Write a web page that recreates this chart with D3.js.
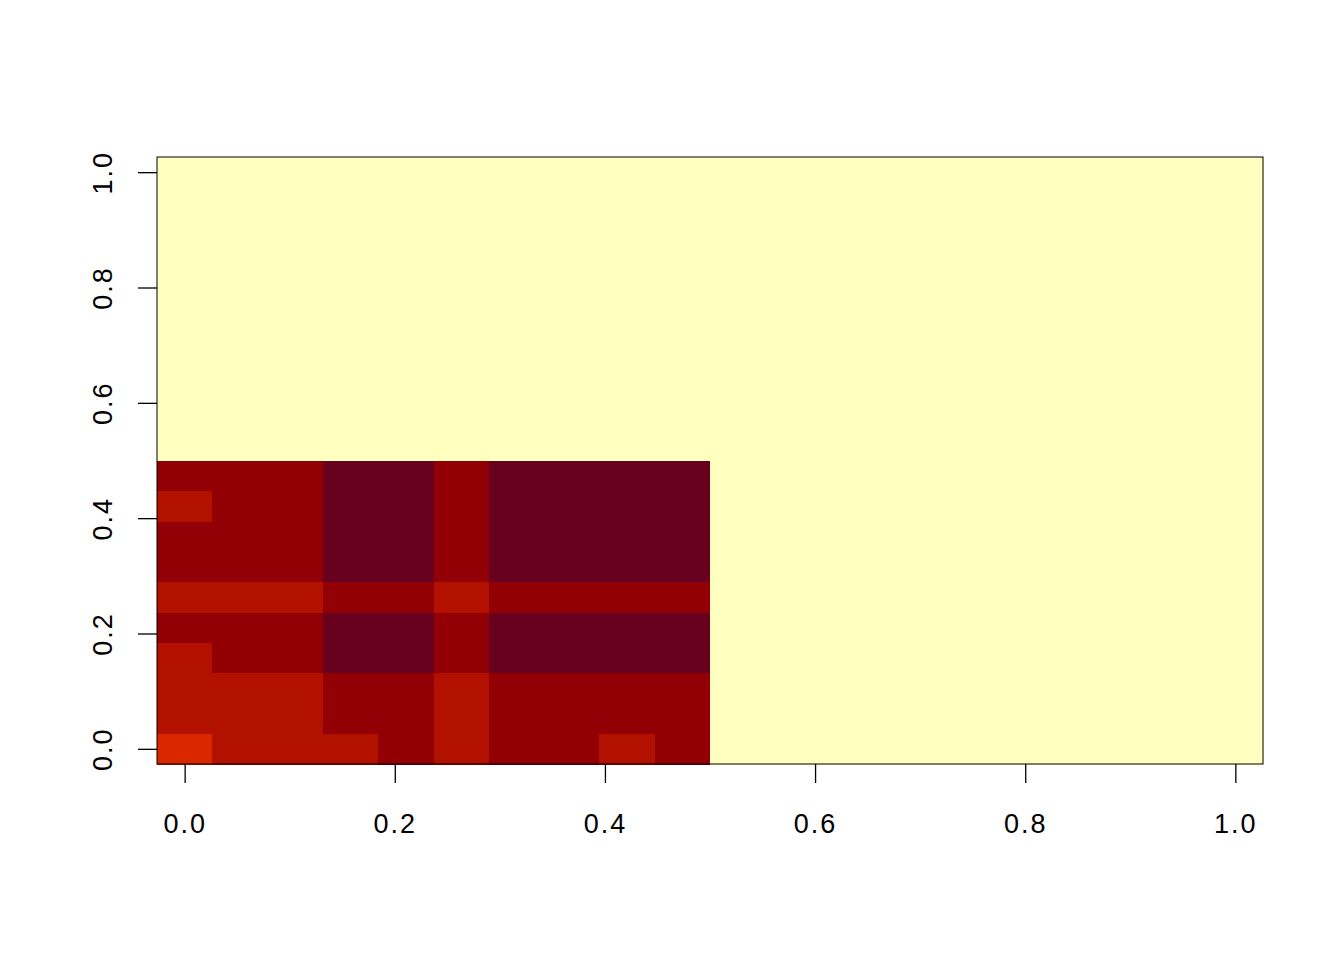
<!DOCTYPE html>
<html><head><meta charset="utf-8">
<script src="https://cdn.jsdelivr.net/npm/d3@7"></script>
<style>body{margin:0;background:#fff}svg{display:block}text{font-family:"Liberation Sans",Arial,sans-serif}</style>
</head><body>
<script>
// Grid: 20 x 20 cells, x and y at k/19
const nx = 20, ny = 20;
const xTicks = [0, 0.2, 0.4, 0.6, 0.8, 1.0];
const yTicks = [0, 0.2, 0.4, 0.6, 0.8, 1.0];
// Levels for the lower-left 10x10 block; rows listed bottom (y=0) to top, columns left to right
const blockRows = [
  [4,3,3,3,2,3,2,2,3,2],
  [3,3,3,2,2,3,2,2,2,2],
  [3,3,3,2,2,3,2,2,2,2],
  [3,2,2,1,1,2,1,1,1,1],
  [2,2,2,1,1,2,1,1,1,1],
  [3,3,3,2,2,3,2,2,2,2],
  [2,2,2,1,1,2,1,1,1,1],
  [2,2,2,1,1,2,1,1,1,1],
  [3,2,2,1,1,2,1,1,1,1],
  [2,2,2,1,1,2,1,1,1,1]
];
const fillLevel = 12; // value everywhere outside the block
const palette = ["#680020","#920006","#B31100","#D92800","#EB4A0A","#F56A1C","#FA8A30","#FCA94A","#FDC366","#FEDA86","#FEEDA6","#FFFFBF"];

const W = 1344, H = 960;
const svg = d3.select("body").append("svg").attr("width", W).attr("height", H);
const half = 1 / (2 * (nx - 1));
const x = d3.scaleLinear().domain([-half, 1 + half]).range([157, 1263]);
const y = d3.scaleLinear().domain([-1/(2*(ny-1)), 1 + 1/(2*(ny-1))]).range([764, 157]);
const color = d3.scaleQuantize().domain([1, 12]).range(palette);

const cells = [];
for (let i = 0; i < nx; i++) for (let j = 0; j < ny; j++) {
  const v = (i < 10 && j < 10) ? blockRows[j][i] : fillLevel;
  cells.push({xv: i/(nx-1), yv: j/(ny-1), v});
}
const dx = 1/(nx-1), dy = 1/(ny-1);
svg.append("g").selectAll("rect").data(cells).join("rect")
  .attr("x", d => x(d.xv - dx/2))
  .attr("y", d => y(d.yv + dy/2))
  .attr("width", d => x(d.xv + dx/2) - x(d.xv - dx/2) + 0.5)
  .attr("height", d => y(d.yv - dy/2) - y(d.yv + dy/2) + 0.5)
  .attr("fill", d => color(d.v))
  .attr("shape-rendering", "crispEdges");

svg.append("rect").attr("x", 157).attr("y", 157).attr("width", 1106).attr("height", 607)
  .attr("fill", "none").attr("stroke", "#000").attr("stroke-width", 1);

const fs = 27;
const xAxis = svg.append("g").attr("transform", "translate(0,764)")
  .call(d3.axisBottom(x).tickValues(xTicks).tickFormat(d3.format(".1f")).tickSize(19).tickPadding(31));
xAxis.select(".domain").remove();
xAxis.selectAll("line").attr("stroke-width", 1.3);
xAxis.selectAll("text").attr("font-size", fs).attr("fill", "#000").attr("letter-spacing", 2)
  .attr("font-family", "Liberation Sans, Arial, sans-serif");

const yAxis = svg.append("g").attr("transform", "translate(157,0)")
  .call(d3.axisLeft(y).tickValues(yTicks).tickFormat(d3.format(".1f")).tickSize(19).tickPadding(24));
yAxis.select(".domain").remove();
yAxis.selectAll("line").attr("stroke-width", 1.3);
yAxis.selectAll("text").attr("font-size", fs).attr("fill", "#000").attr("letter-spacing", 2)
  .attr("font-family", "Liberation Sans, Arial, sans-serif")
  .attr("text-anchor", "middle").attr("dy", 0).attr("x", 0).attr("y", 0)
  .attr("transform", "translate(-45,0) rotate(-90)");
</script>
</body></html>
